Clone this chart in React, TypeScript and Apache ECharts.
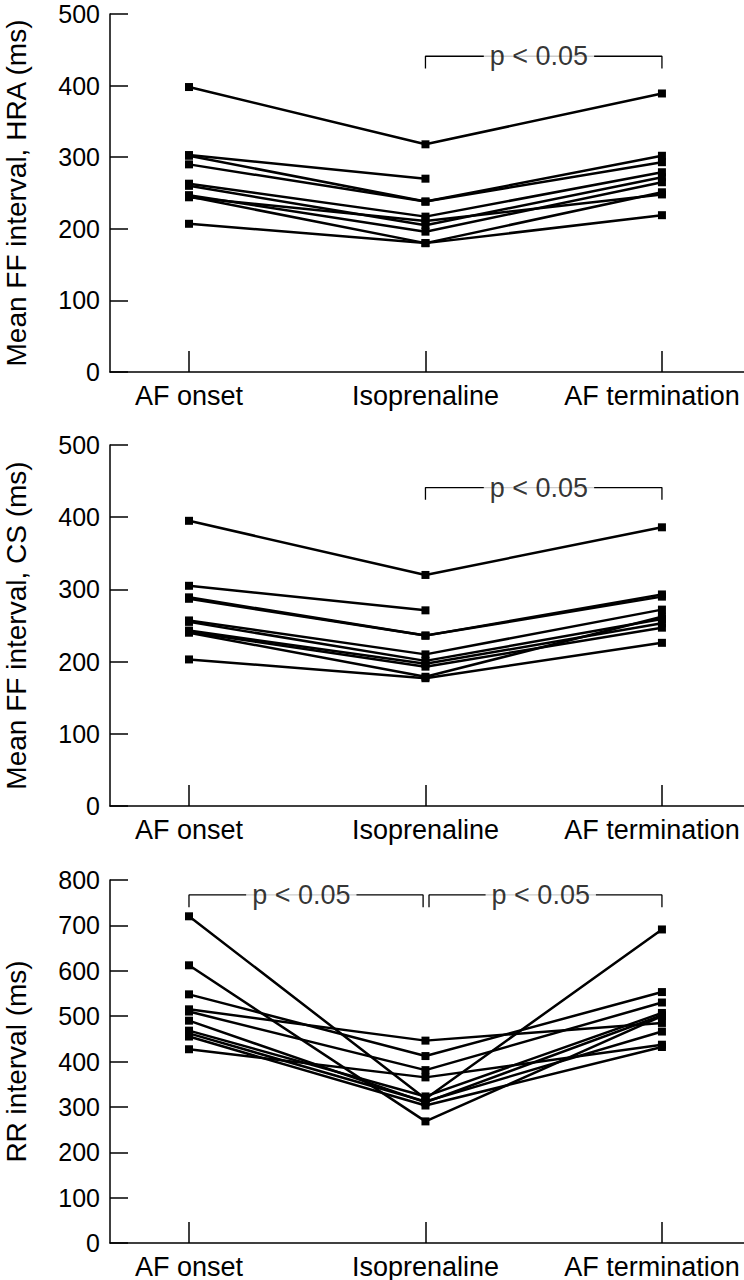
import React, { useEffect, useRef } from "react";
import * as echarts from "echarts";

const categories = ["AF onset", "Isoprenaline", "AF termination"];

// Each row: one patient [AF onset, Isoprenaline, AF termination]
const hraValues: (number | null)[][] = [
  [398, 318, 389],
  [303, 270, null],
  [302, 238, 302],
  [290, 238, 293],
  [263, 217, 279],
  [260, 205, 272],
  [247, 196, 265],
  [245, 180, 251],
  [244, 211, 248],
  [207, 180, 219],
];

const csValues: (number | null)[][] = [
  [395, 320, 386],
  [305, 271, null],
  [289, 236, 293],
  [287, 236, 290],
  [257, 210, 272],
  [255, 201, 259],
  [243, 197, 253],
  [241, 193, 247],
  [240, 179, 262],
  [203, 177, 226],
];

const rrValues: (number | null)[][] = [
  [720, 318, 691],
  [612, 268, 500],
  [548, 412, 553],
  [515, 446, 485],
  [510, 381, 530],
  [490, 310, 502],
  [468, 323, 507],
  [462, 312, 466],
  [455, 303, 432],
  [427, 365, 437],
];

const yTitles = ["Mean FF interval, HRA (ms)", "Mean FF interval, CS (ms)", "RR interval (ms)"];
const yMax = [500, 500, 800];
const pLabel = "p < 0.05";

// brackets: [panel, from category, to category, level value, foot value]
const brackets = [
  [0, 1, 2, 441, 424],
  [1, 1, 2, 441, 424],
  [2, 0, 0.99, 767, 740],
  [2, 1.015, 2, 767, 740],
];

const FONT = "'Liberation Sans', Arial, Helvetica, sans-serif";

export default function App() {
  const ref = useRef<HTMLDivElement>(null);
  useEffect(() => {
    document.body.style.margin = "0";
    const chart = echarts.init(ref.current!, null, { renderer: "svg" });
    const grids = [
      { left: 110, right: 0, top: 14, height: 358, outerBoundsMode: "none", containLabel: false },
      { left: 110, right: 0, top: 445, height: 361, outerBoundsMode: "none", containLabel: false },
      { left: 110, right: 0, top: 880, height: 363, outerBoundsMode: "none", containLabel: false },
    ];
    const xAxes = grids.map((_, i) => ({
      type: "value",
      gridIndex: i,
      min: -0.334,
      max: 2.347,
      splitLine: { show: false },
      axisLine: { show: true, onZero: false, lineStyle: { color: "#000", width: 1.5 } },
      axisTick: {
        show: true,
        inside: true,
        length: 21,
        customValues: [0, 1, 2],
        lineStyle: { color: "#000", width: 1.5 },
      },
      axisLabel: {
        customValues: [0, 1, 2],
        formatter: (v: number) => {
          const k = Math.round(v);
          return k === 2 ? `{last|${categories[k]}}` : categories[k];
        },
        rich: {
          last: { fontSize: 27, fontFamily: FONT, color: "#000", padding: [0, 20, 0, 0] },
        },
        color: "#000",
        fontSize: 27,
        fontFamily: FONT,
        margin: 10,
      },
    }));
    const yAxes = grids.map((_, i) => ({
      type: "value",
      gridIndex: i,
      min: 0,
      max: yMax[i],
      interval: 100,
      splitLine: { show: false },
      axisLine: { show: true, onZero: false, lineStyle: { color: "#000", width: 1.5 } },
      axisTick: { show: true, inside: true, length: 18, lineStyle: { color: "#000", width: 1.5 } },
      axisLabel: { color: "#000", fontSize: 25, lineHeight: 22, fontFamily: FONT, margin: 10 },
      name: yTitles[i],
      nameLocation: "middle",
      nameGap: 80,
      nameTextStyle: { color: "#000", fontSize: 28, fontFamily: FONT },
    }));
    const panels = [hraValues, csValues, rrValues];
    const series: any[] = [];
    panels.forEach((rows, p) => {
      rows.forEach((row) => {
        const data = row
          .map((v, j) => (v == null ? null : [j, v]))
          .filter((d) => d !== null);
        series.push({
          type: "line",
          xAxisIndex: p,
          yAxisIndex: p,
          data,
          symbol: "rect",
          symbolSize: 8,
          showSymbol: true,
          itemStyle: { color: "#000" },
          lineStyle: { color: "#000", width: 2.5 },
          z: 3,
        });
      });
    });
    brackets.forEach(([p, a, b, lvl, foot]) => {
      series.push({
        type: "line",
        xAxisIndex: p,
        yAxisIndex: p,
        data: [
          [a, foot],
          [a, lvl],
          [b, lvl],
          [b, foot],
        ],
        symbol: "none",
        lineStyle: { color: "#000", width: 1.3 },
        z: 2,
      });
      series.push({
        type: "scatter",
        xAxisIndex: p,
        yAxisIndex: p,
        data: [[(a + b) / 2 - 0.02, lvl]],
        symbolSize: 1,
        itemStyle: { color: "rgba(0,0,0,0)" },
        label: {
          show: true,
          position: "inside",
          formatter: pLabel,
          color: "#000",
          fontSize: 27,
          fontFamily: FONT,
          backgroundColor: "#fff",
          padding: [0, 6],
        },
        z: 5,
      });
    });
    chart.setOption({
      animation: false,
      backgroundColor: "#fff",
      grid: grids,
      xAxis: xAxes,
      yAxis: yAxes,
      series,
    });
    return () => chart.dispose();
  }, []);
  return <div ref={ref} style={{ width: 744, height: 1280 }} />;
}
